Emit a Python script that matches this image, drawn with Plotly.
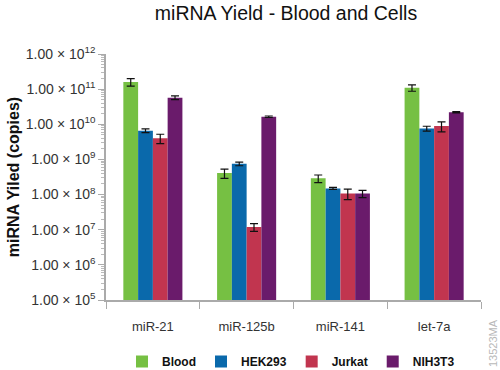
import plotly.graph_objects as go

categories = ["miR-21", "miR-125b", "miR-141", "let-7a"]
series_names = ["Blood", "HEK293", "Jurkat", "NIH3T3"]

blood = [1.6e11, 4.1e8, 2.9e8, 1.1e11]
hek293 = [6.6e9, 7.5e8, 1.5e8, 7.6e9]
jurkat = [4.0e9, 1.2e7, 1.07e8, 8.9e9]
nih3t3 = [5.7e10, 1.64e10, 1.07e8, 2.2e10]

blood_err = [3.8e10, 1.2e8, 7.0e7, 2.3e10]
hek293_err = [8.0e8, 9.0e7, 1.0e7, 1.2e9]
jurkat_err = [1.2e9, 3.0e6, 3.5e7, 2.8e9]
nih3t3_err = [7.0e9, 8.0e8, 2.5e7, 8.0e8]

colors = ["#76c043", "#0a69ab", "#c1354f", "#6a1b6b"]

tick_exps = [5, 6, 7, 8, 9, 10, 11, 12]
tick_vals = [10 ** e for e in tick_exps]
tick_text = [f"1.00 × 10<sup>{e}</sup>" for e in tick_exps]
minor_vals = [m * 10 ** e for e in tick_exps[:-1] for m in range(2, 10)]

FONT = "Liberation Sans, Arial, Helvetica, sans-serif"

fig = go.Figure()
for name, vals, errs, col in zip(series_names,
                                 [blood, hek293, jurkat, nih3t3],
                                 [blood_err, hek293_err, jurkat_err, nih3t3_err],
                                 colors):
    fig.add_trace(go.Bar(
        name=name, x=categories, y=vals, marker_color=col,
        marker_line_width=0,
        error_y=dict(type="data", array=errs, visible=True,
                     color="#111111", thickness=1.2, width=4),
    ))

fig.update_layout(
    width=500, height=370,
    margin=dict(l=106, r=19, t=54, b=70, autoexpand=False),
    paper_bgcolor="white", plot_bgcolor="white",
    barmode="group", bargap=0.37, bargroupgap=0,
    font=dict(family=FONT, color="#333333", size=12),
    title=dict(text="miRNA Yield - Blood and Cells", x=0.572, xanchor="center",
               y=1 - 13 / 370, yanchor="middle",
               font=dict(family=FONT, size=19.5, color="#111111")),
    legend=dict(orientation="h", xref="container", x=122 / 500, xanchor="left",
                yref="container", y=(370 - 347) / 370, yanchor="top",
                font=dict(family=FONT, size=12, color="#111111", weight="bold"),
                itemwidth=30, traceorder="normal"),
    showlegend=True,
)
fig.update_xaxes(
    showline=True, linecolor="#aaaaaa", linewidth=1.5,
    ticks="outside", tickson="boundaries", ticklen=7, tickcolor="#aaaaaa",
    ticklabelstandoff=14,
    showgrid=False, tickfont=dict(size=13, color="#333333"),
    automargin=False,
)
fig.update_yaxes(
    type="log", range=[5, 12],
    tickmode="array", tickvals=tick_vals, ticktext=tick_text,
    showline=True, linecolor="#aaaaaa", linewidth=1.5,
    ticks="outside", ticklen=6, tickcolor="#aaaaaa",
    minor=dict(ticks="outside", ticklen=3, tickcolor="#bbbbbb",
               tickmode="array", tickvals=minor_vals, showgrid=False),
    showgrid=False, zeroline=False, automargin=False,
    tickfont=dict(size=14, color="#333333"),
    title=dict(text="miRNA Yiled (copies)", standoff=2,
               font=dict(family=FONT, size=16, color="#111111", weight="bold")),
)
fig.add_annotation(text="13523MA", xref="paper", yref="paper",
                   x=(493 - 106) / 375, y=-(343 - 300) / 246,
                   xanchor="center", yanchor="middle",
                   showarrow=False, textangle=-90,
                   font=dict(family=FONT, size=11, color="#b8b8b8"))

fig.write_html("out.html", config={"displayModeBar": False},
               post_script="document.body.style.margin='0px';")
